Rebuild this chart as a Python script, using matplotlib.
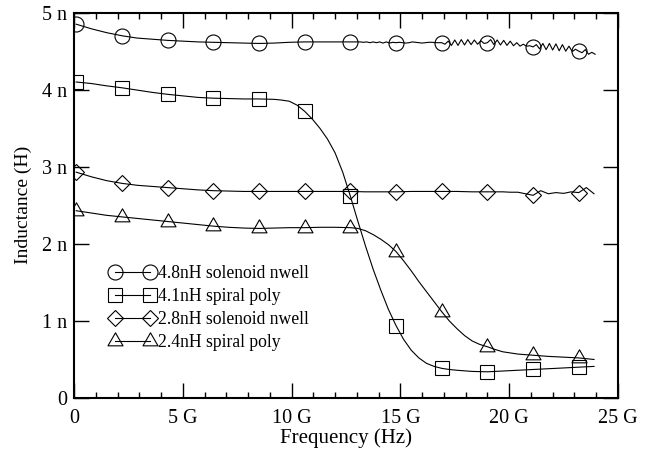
import numpy as np
import matplotlib
matplotlib.use('Agg')
import matplotlib.pyplot as plt
from matplotlib.path import Path
from matplotlib.ticker import MultipleLocator, FuncFormatter

plt.rcParams['font.family'] = ['Liberation Serif', 'DejaVu Serif']
plt.rcParams['font.size'] = 13

# frequency in GHz, inductance in nH

# symbol positions
f_marks = [0.1, 2.2, 4.3, 6.4, 8.5, 10.6, 12.7, 14.8, 16.9, 19.0, 21.1, 23.2]

# 4.8nH solenoid nwell: smooth part then the noisy high-frequency part
f_sol48 = [0.1, 0.8, 1.5, 2.2, 2.9, 3.6, 4.3, 5.0, 5.7, 6.4, 7.1, 7.8, 8.5,
           9.2, 9.9, 10.6, 11.3, 12.0, 12.7,
           12.85, 13.0, 13.15, 13.3, 13.45, 13.6, 13.75, 13.9, 14.05, 14.2,
           14.35, 14.5, 14.65, 14.8, 14.95, 15.1, 15.25, 15.4, 15.55, 15.7,
           15.85, 16.0, 16.15, 16.3, 16.45, 16.6, 16.75, 16.9, 17.05, 17.2,
           17.35, 17.5, 17.65, 17.8, 17.95, 18.1, 18.25, 18.4, 18.55, 18.7,
           18.85, 19.0, 19.15, 19.3, 19.45, 19.6, 19.75, 19.9, 20.05, 20.2,
           20.35, 20.5, 20.65, 20.8, 20.95, 21.1, 21.25, 21.4, 21.55, 21.7,
           21.85, 22.0, 22.15, 22.3, 22.45, 22.6, 22.75, 22.9, 23.05, 23.2,
           23.35, 23.5, 23.65, 23.8, 23.95]
L_sol48 = [4.85, 4.79, 4.74, 4.70, 4.67, 4.655, 4.64, 4.63, 4.62, 4.615, 4.61,
           4.605, 4.60, 4.605, 4.615, 4.62, 4.62, 4.62, 4.62,
           4.62, 4.62, 4.62, 4.615, 4.62, 4.61, 4.62, 4.61, 4.62, 4.605,
           4.62, 4.605, 4.615, 4.61, 4.615, 4.61, 4.605, 4.61, 4.62, 4.615,
           4.61, 4.605, 4.61, 4.615, 4.615, 4.61, 4.61, 4.61, 4.59, 4.63,
           4.575, 4.645, 4.575, 4.65, 4.58, 4.65, 4.585, 4.645, 4.59, 4.635,
           4.60, 4.61, 4.65, 4.585, 4.645, 4.58, 4.64, 4.575, 4.63, 4.57,
           4.61, 4.565, 4.59, 4.565, 4.57, 4.555, 4.585, 4.53, 4.60, 4.52,
           4.60, 4.515, 4.595, 4.505, 4.585, 4.50, 4.565, 4.495, 4.525, 4.50,
           4.48, 4.52, 4.46, 4.485, 4.46]

# 4.1nH spiral poly
f_spi41 = [0.1, 0.8, 1.5, 2.2, 2.9, 3.6, 4.3, 5.0, 5.7, 6.4, 7.1, 7.8, 8.5,
           9.2, 9.55, 9.9, 10.25, 10.6, 10.95, 11.3, 11.65, 12.0, 12.35, 12.7,
           13.05, 13.4, 13.75, 14.1, 14.45, 14.8, 15.15, 15.5, 15.85, 16.2,
           16.55, 16.9, 17.25, 17.6, 18.3, 19.0, 19.7, 20.4, 21.1, 21.8, 22.5,
           23.2, 23.9]
L_spi41 = [4.10, 4.08, 4.05, 4.025, 3.995, 3.965, 3.94, 3.92, 3.90, 3.89,
           3.885, 3.88, 3.88, 3.875, 3.865, 3.85, 3.80, 3.72, 3.62, 3.50,
           3.36, 3.18, 2.93, 2.62, 2.29, 1.97, 1.67, 1.40, 1.15, 0.94, 0.76,
           0.62, 0.52, 0.45, 0.41, 0.385, 0.37, 0.36, 0.345, 0.34, 0.35, 0.36,
           0.37, 0.38, 0.39, 0.40, 0.41]

# 2.8nH solenoid nwell
f_sol28 = [0.1, 0.8, 1.5, 2.2, 2.9, 3.6, 4.3, 5.0, 5.7, 6.4, 7.1, 7.8, 8.5,
           9.2, 9.9, 10.6, 11.3, 12.0, 12.7, 13.4, 14.1, 14.8, 15.5, 16.2,
           16.9, 17.6, 18.3, 19.0, 19.35, 19.7, 20.05, 20.4, 20.75, 21.1,
           21.45, 21.8, 22.15, 22.5, 22.85, 23.2, 23.55, 23.9]
L_sol28 = [2.93, 2.87, 2.82, 2.785, 2.76, 2.745, 2.73, 2.715, 2.70, 2.69,
           2.685, 2.68, 2.68, 2.68, 2.68, 2.68, 2.68, 2.68, 2.68, 2.675,
           2.675, 2.675, 2.68, 2.68, 2.68, 2.68, 2.675, 2.675, 2.675, 2.675,
           2.67, 2.67, 2.65, 2.63, 2.69, 2.65, 2.665, 2.655, 2.675, 2.665,
           2.73, 2.65]

# 2.4nH spiral poly
f_spi24 = [0.1, 0.8, 1.5, 2.2, 2.9, 3.6, 4.3, 5.0, 5.7, 6.4, 7.1, 7.8, 8.5,
           9.2, 9.9, 10.6, 11.3, 12.0, 12.7, 13.05, 13.4, 13.75, 14.1, 14.45,
           14.8, 15.15, 15.5, 15.85, 16.2, 16.55, 16.9, 17.25, 17.6, 17.95,
           18.3, 18.65, 19.0, 19.35, 19.7, 20.4, 21.1, 21.8, 22.5, 23.2, 23.9]
L_spi24 = [2.43, 2.40, 2.37, 2.35, 2.33, 2.31, 2.29, 2.27, 2.25, 2.23,
           2.215, 2.205, 2.20, 2.205, 2.21, 2.21, 2.215, 2.215, 2.21, 2.20,
           2.17, 2.12, 2.06, 1.99, 1.90, 1.78, 1.65, 1.51, 1.38, 1.25, 1.12,
           1.00, 0.90, 0.81, 0.74, 0.695, 0.665, 0.63, 0.60, 0.57, 0.555,
           0.54, 0.53, 0.52, 0.50]

tri = Path([(0, 1), (-0.866, -0.5), (0.866, -0.5), (0, 1)], closed=True)

series = [
    (f_sol48, L_sol48, 'o', 10.8, '4.8nH solenoid nwell'),
    (f_spi41, L_spi41, 's', 9.4, '4.1nH spiral poly'),
    (f_sol28, L_sol28, 'D', 8.6, '2.8nH solenoid nwell'),
    (f_spi24, L_spi24, tri, 12.5, '2.4nH spiral poly'),
]

fig = plt.figure(figsize=(6.51, 4.51), dpi=100)
ax = fig.add_axes([0.1137, 0.1175, 0.8355, 0.8545])

for f, L, mk, ms, lab in series:
    f = np.array(f)
    idx = np.where(np.isclose(f[:, None], np.array(f_marks)[None, :]).any(axis=1))[0]
    ax.plot(f, L, color='black', lw=0.8, marker=mk, ms=ms, mfc='none',
            mec='black', mew=0.8, markevery=list(idx), label=lab)

ax.set_xlim(0, 25)
ax.set_ylim(0, 5)
ax.xaxis.set_major_locator(MultipleLocator(5))
ax.xaxis.set_minor_locator(MultipleLocator(1))
ax.yaxis.set_major_locator(MultipleLocator(1))
ax.xaxis.set_major_formatter(FuncFormatter(lambda v, p: '0' if v == 0 else f'{int(round(v))} G'))
ax.yaxis.set_major_formatter(FuncFormatter(lambda v, p: '0' if v == 0 else f'{int(round(v))} n'))
ax.tick_params(which='both', direction='in', top=True, right=True, width=1,
               labelsize=14.5)
ax.tick_params(which='major', length=10.5)
ax.tick_params(which='minor', length=4.5)
ax.tick_params(axis='x', which='major', pad=8)
ax.tick_params(axis='y', which='major', pad=5)
for s in ax.spines.values():
    s.set_linewidth(1.5)

ax.set_xlabel('Frequency (Hz)', fontsize=15, labelpad=0)
ax.set_ylabel('Inductance (H)', fontsize=14, labelpad=7)

ax.legend(loc='upper left', bbox_to_anchor=(0.0656, 0.345), frameon=False,
          fontsize=12.7, numpoints=2, handlelength=2.58, handletextpad=0.15,
          labelspacing=0.34, borderpad=0, borderaxespad=0)

fig.savefig('out.png', dpi=100)
